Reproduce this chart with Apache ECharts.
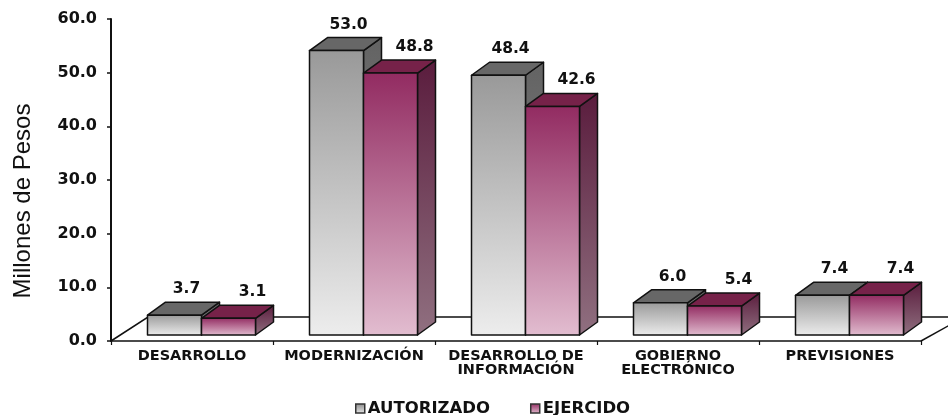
<!DOCTYPE html>
<html><head><meta charset="utf-8">
<script src="https://cdn.jsdelivr.net/npm/echarts@6/dist/echarts.min.js"></script>
<style>html,body{margin:0;padding:0;background:#fff}#c{width:948px;height:415px}</style>
</head><body><div id="c"></div>
<script>
const categories = ['DESARROLLO', 'MODERNIZACIÓN', 'DESARROLLO DE\nINFORMACIÓN', 'GOBIERNO\nELECTRÓNICO', 'PREVISIONES'];
const autorizado = [3.7, 53.0, 48.4, 6.0, 7.4];
const ejercido = [3.1, 48.8, 42.6, 5.4, 7.4];
const yTicks = [0, 10, 20, 30, 40, 50, 60];
const seriesNames = ['AUTORIZADO', 'EJERCIDO'];
const yTitle = 'Millones de Pesos';

const DX = 18, DY = -13;          // bar depth offset
const SHIFT_X = 9.5, SHIFT_Y = -6; // bars sit mid-depth on the floor
const LABEL_DX = [12, 24];

const palettes = [
  {front: ['#999999', '#ededed'], top: '#676767', side: ['#636363', '#8a8a8a']},
  {front: ['#922b61', '#e2bdd0'], top: '#762249', side: ['#5a1c3d', '#907080']}
];
function lg(c1, c2) {
  return new echarts.graphic.LinearGradient(0, 0, 0, 1, [{offset: 0, color: c1}, {offset: 1, color: c2}]);
}
const FONT = '"DejaVu Sans", sans-serif';

function makeRender(si) {
  return function (params, api) {
    const cat = api.value(0), v = api.value(1);
    const top = api.coord([cat, v]);
    const base = api.coord([cat, 0]);
    const bw = api.size([1, 0])[0] / 3;
    const x0 = top[0] - bw + si * bw + SHIFT_X;
    const x1 = x0 + bw;
    const yT = top[1] + SHIFT_Y, yB = base[1] + SHIFT_Y;
    const p = palettes[si];
    const st = (fill) => ({fill: fill, stroke: '#111', lineWidth: 1.5, lineJoin: 'round'});
    return {
      type: 'group', children: [
        {type: 'polygon', shape: {points: [[x1, yB], [x1 + DX, yB + DY], [x1 + DX, yT + DY], [x1, yT]]}, style: st(lg(p.side[0], p.side[1]))},
        {type: 'polygon', shape: {points: [[x0, yT], [x1, yT], [x1 + DX, yT + DY], [x0 + DX, yT + DY]]}, style: st(p.top)},
        {type: 'rect', shape: {x: x0, y: yT, width: bw, height: yB - yT}, style: st(lg(p.front[0], p.front[1]))},
        {type: 'text', style: {text: v.toFixed(1), x: (x0 + x1) / 2 + LABEL_DX[si], y: yT + DY - 13,
          align: 'center', verticalAlign: 'middle', fontFamily: FONT, fontWeight: 'bold', fontSize: 15.5, fill: '#111'}}
      ]
    };
  };
}

function floorRender(params, api) {
  const cs = params.coordSys;
  const x = cs.x, y = cs.y + cs.height, w = cs.width;
  const s = {stroke: '#111', lineWidth: 1.5, fill: null};
  return {
    type: 'group', children: [
      {type: 'polyline', shape: {points: [[x, y], [x + 37, y - 24], [x + w + 80, y - 24]]}, style: s},
      {type: 'line', shape: {x1: x + w, y1: y, x2: x + w + 45, y2: y - 25}, style: s}
    ]
  };
}

const chart = echarts.init(document.getElementById('c'));
chart.setOption({
  animation: false,
  backgroundColor: '#fff',
  grid: {left: 111, right: 27, top: 19, bottom: 74},
  xAxis: {
    type: 'category', data: categories,
    axisLine: {show: true, lineStyle: {color: '#111', width: 1.5}},
    axisTick: {show: true, length: 4, lineStyle: {color: '#111', width: 1.2}},
    axisLabel: {interval: 0, margin: 8, fontFamily: FONT, fontWeight: 'bold', fontSize: 14.5, lineHeight: 14, color: '#111'}
  },
  yAxis: {
    type: 'value', min: yTicks[0], max: yTicks[yTicks.length - 1], interval: yTicks[1] - yTicks[0],
    axisLine: {show: true, lineStyle: {color: '#111', width: 2}},
    axisTick: {show: true, length: 4, lineStyle: {color: '#111', width: 1.5}},
    splitLine: {show: false},
    axisLabel: {formatter: v => v.toFixed(1), margin: 14, fontFamily: FONT, fontWeight: 'bold', fontSize: 16, color: '#111'}
  },
  legend: {
    data: [
      {name: seriesNames[0], icon: 'rect', itemStyle: {color: lg('#8a8a8a', '#e8e8e8'), borderColor: '#333', borderWidth: 1.5}},
      {name: seriesNames[1], icon: 'rect', itemStyle: {color: lg('#922b61', '#e2bdd0'), borderColor: '#333', borderWidth: 1.5}}
    ],
    left: 350, top: 395, itemWidth: 9, itemHeight: 9, itemGap: 40,
    textStyle: {fontFamily: FONT, fontWeight: 'bold', fontSize: 16.5, color: '#111', padding: [0, 0, 0, -2]}
  },
  graphic: [{
    type: 'text', x: 23, y: 201, rotation: Math.PI / 2,
    style: {text: yTitle, align: 'center', verticalAlign: 'middle', fontFamily: '"Liberation Sans", Arial, sans-serif', fontSize: 24, fill: '#111'}
  }],
  series: [
    {name: 'floor', type: 'custom', silent: true, z: 1, renderItem: floorRender, data: [[0, 0]]},
    {name: seriesNames[0], type: 'custom', z: 2, renderItem: makeRender(0), itemStyle: {color: '#999'},
      encode: {x: 0, y: 1}, data: autorizado.map((v, i) => [i, v])},
    {name: seriesNames[1], type: 'custom', z: 3, renderItem: makeRender(1), itemStyle: {color: '#922b61'},
      encode: {x: 0, y: 1}, data: ejercido.map((v, i) => [i, v])}
  ]
});
</script></body></html>
